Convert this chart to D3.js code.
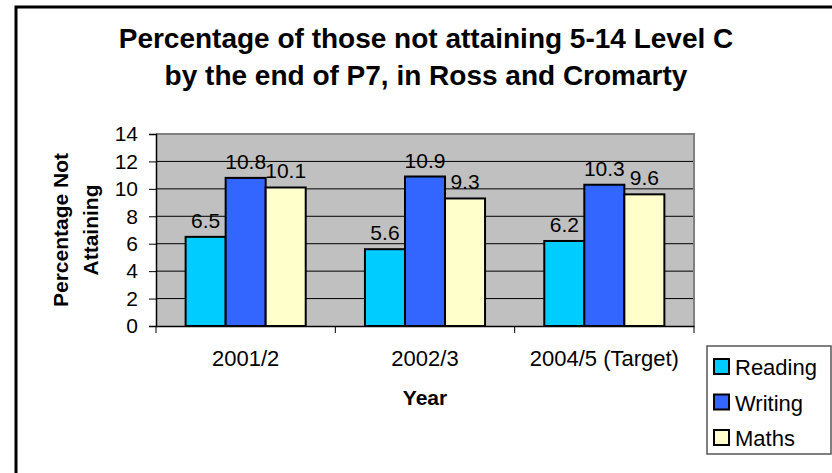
<!DOCTYPE html>
<html>
<head>
<meta charset="utf-8">
<script src="https://cdn.jsdelivr.net/npm/d3@7"></script>
<style>
  body { margin: 0; background: #fff; }
  text { font-family: Arial, "Liberation Sans", sans-serif; fill: #000; }
</style>
</head>
<body>
<div id="chart"></div>
<script>
const years = ["2001/2", "2002/3", "2004/5 (Target)"];
const seriesNames = ["Reading", "Writing", "Maths"];
const reading = [6.5, 5.6, 6.2];
const writing = [10.8, 10.9, 10.3];
const maths = [10.1, 9.3, 9.6];
const yTicks = [0, 2, 4, 6, 8, 10, 12, 14];
const titleLines = ["Percentage of those not attaining 5-14 Level C", "by the end of P7, in Ross and Cromarty"];

const colors = { Reading: "#00CCFF", Writing: "#3366FF", Maths: "#FFFFCC" };
const seriesValues = { Reading: reading, Writing: writing, Maths: maths };

const width = 832, height = 473;
const plot = { left: 156, right: 694, top: 134, bottom: 326 };

const svg = d3.select("#chart").append("svg")
  .attr("width", width)
  .attr("height", height);

// outer chart frame (runs off the right and bottom edge)
svg.append("rect")
  .attr("x", 16).attr("y", 7)
  .attr("width", 900).attr("height", 600)
  .attr("fill", "#fff")
  .attr("stroke", "#000")
  .attr("stroke-width", 3);

/* title */
svg.append("g").selectAll("text")
  .data(titleLines).enter()
  .append("text")
  .attr("x", 426)
  .attr("y", (d, i) => 48 + i * 37)
  .attr("text-anchor", "middle")
  .style("font-size", "28px")
  .style("font-weight", "bold")
  .text(d => d);

/* scales */
const x = d3.scaleBand()
  .domain(years)
  .range([plot.left, plot.right])
  .padding(0);

const xInner = d3.scaleBand()
  .domain(seriesNames)
  .range([0, x.bandwidth()])
  .paddingInner(0)
  .paddingOuter(0.74);

const y = d3.scaleLinear()
  .domain([0, 14])
  .range([plot.bottom, plot.top]);

/* plot background + grid */
svg.append("rect")
  .attr("x", plot.left).attr("y", plot.top)
  .attr("width", plot.right - plot.left)
  .attr("height", plot.bottom - plot.top)
  .attr("fill", "#C0C0C0");

svg.append("g").selectAll("line")
  .data(yTicks.filter(t => t > 0 && t < 14)).enter()
  .append("line")
  .attr("x1", plot.left).attr("x2", plot.right)
  .attr("y1", d => y(d)).attr("y2", d => y(d))
  .attr("stroke", "#000")
  .attr("stroke-width", 1);

// top / right border of plot area
svg.append("path")
  .attr("d", `M${plot.left},${plot.top}H${plot.right}V${plot.bottom}`)
  .attr("fill", "none")
  .attr("stroke", "#808080")
  .attr("stroke-width", 2);

/* bars */
const groups = svg.append("g").selectAll("g")
  .data(years).enter()
  .append("g")
  .attr("transform", d => `translate(${x(d)},0)`);

groups.selectAll("rect")
  .data((yr, i) => seriesNames.map(s => ({ series: s, value: seriesValues[s][i] }))).enter()
  .append("rect")
  .attr("x", d => xInner(d.series))
  .attr("y", d => y(d.value))
  .attr("width", xInner.bandwidth())
  .attr("height", d => y(0) - y(d.value))
  .attr("fill", d => colors[d.series])
  .attr("stroke", "#000")
  .attr("stroke-width", 2);

groups.selectAll("text")
  .data((yr, i) => seriesNames.map(s => ({ series: s, value: seriesValues[s][i] }))).enter()
  .append("text")
  .attr("x", d => xInner(d.series) + xInner.bandwidth() / 2)
  .attr("y", d => y(d.value) - 9)
  .attr("text-anchor", "middle")
  .style("font-size", "21px")
  .text(d => d.value.toFixed(1));

/* axes */
const yAxis = d3.axisLeft(y).tickValues(yTicks).tickSize(7).tickPadding(11);
const gy = svg.append("g")
  .attr("transform", `translate(${plot.left},0)`)
  .call(yAxis);
gy.select(".domain").attr("stroke", "#000").attr("stroke-width", 1.5);
gy.selectAll(".tick line").attr("stroke", "#000");
gy.selectAll(".tick text")
  .style("font-size", "21px")
  .style("font-family", "Arial, 'Liberation Sans', sans-serif")
  .attr("fill", "#000");

const xAxis = d3.axisBottom(x).tickSize(0).tickPadding(24);
const gx = svg.append("g")
  .attr("transform", `translate(0,${plot.bottom})`)
  .call(xAxis);
gx.select(".domain").attr("stroke", "#000").attr("stroke-width", 1.5);
gx.selectAll(".tick text")
  .style("font-size", "22px")
  .style("font-family", "Arial, 'Liberation Sans', sans-serif")
  .attr("fill", "#000");

// category separator ticks
gx.append("g").selectAll("line")
  .data(years.map(d => x(d)).concat([plot.right])).enter()
  .append("line")
  .attr("x1", d => d).attr("x2", d => d)
  .attr("y1", 0).attr("y2", 7)
  .attr("stroke", "#000");

/* axis titles */
svg.append("text")
  .attr("x", (plot.left + plot.right) / 2)
  .attr("y", 405)
  .attr("text-anchor", "middle")
  .style("font-size", "21px")
  .style("font-weight", "bold")
  .text("Year");

const yTitle = svg.append("text")
  .attr("transform", `translate(0,${(plot.top + plot.bottom) / 2}) rotate(-90)`)
  .attr("text-anchor", "middle")
  .style("font-size", "21px")
  .style("font-weight", "bold");
yTitle.append("tspan").attr("x", 0).attr("y", 68).text("Percentage Not");
yTitle.append("tspan").attr("x", 0).attr("y", 98).text("Attaining");

/* legend */
const legend = svg.append("g").attr("transform", "translate(707,346)");
legend.append("rect")
  .attr("x", 0).attr("y", 0)
  .attr("width", 124).attr("height", 108)
  .attr("fill", "#fff")
  .attr("stroke", "#555")
  .attr("stroke-width", 1.5);

const items = legend.selectAll(".item")
  .data(seriesNames).enter()
  .append("g")
  .attr("class", "item")
  .attr("transform", (d, i) => `translate(7,${13 + i * 35.5})`);

items.append("rect")
  .attr("width", 15).attr("height", 15)
  .attr("fill", d => colors[d])
  .attr("stroke", "#000")
  .attr("stroke-width", 2);

items.append("text")
  .attr("x", 21)
  .attr("y", 16)
  .style("font-size", "22px")
  .text(d => d);
</script>
</body>
</html>
